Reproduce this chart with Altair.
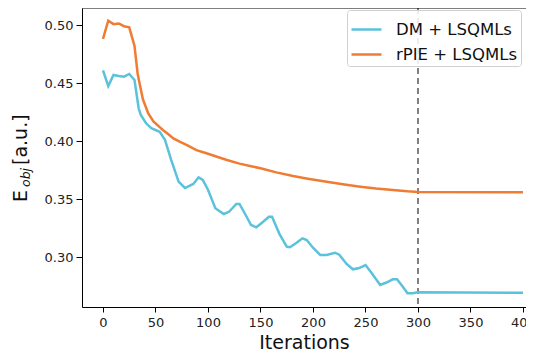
import altair as alt
import pandas as pd

series_names = ["DM + LSQMLs", "rPIE + LSQMLs"]
colors = ["#5BC2DC", "#F07B32"]

dm_iter = [0, 5, 10, 15, 20, 25, 30, 34, 36, 41, 46, 54, 59, 65, 72, 78, 86, 91, 95, 100,
           107, 115, 120, 127, 130, 136, 141, 146, 152, 158, 161, 168, 175, 178, 184, 190,
           194, 200, 207, 213, 221, 225, 232, 238, 244, 250, 256, 264, 270, 276, 280, 285,
           290, 295, 300, 400]
dm_val = [0.461, 0.4474, 0.457, 0.456, 0.4555, 0.4578, 0.4526, 0.428, 0.4225, 0.4153,
          0.411, 0.408, 0.401, 0.3836, 0.365, 0.3595, 0.363, 0.3687, 0.3664, 0.358,
          0.342, 0.3371, 0.339, 0.3457, 0.3457, 0.336, 0.3276, 0.3256, 0.330, 0.3347,
          0.3347, 0.320, 0.3089, 0.3084, 0.312, 0.3161, 0.3147, 0.308, 0.3017, 0.3017,
          0.3037, 0.302, 0.294, 0.2894, 0.2905, 0.2931, 0.286, 0.2759, 0.278, 0.2808,
          0.2808, 0.275, 0.2687, 0.2687, 0.2696, 0.2692]

rpie_iter = [0, 5, 10, 15, 20, 25, 30, 33, 35, 38, 43, 48, 54, 57, 62, 67, 73, 80, 89, 100,
             110, 118, 130, 140, 150, 165, 181, 195, 213, 230, 245, 260, 276, 290, 300, 400]
rpie_val = [0.488, 0.5037, 0.5008, 0.5014, 0.499, 0.498, 0.482, 0.458, 0.449, 0.436,
            0.424, 0.417, 0.412, 0.4095, 0.406, 0.4023, 0.3994, 0.3965, 0.3922, 0.389,
            0.386, 0.3836, 0.3805, 0.3785, 0.3765, 0.373, 0.3698, 0.3675, 0.3649, 0.3625,
            0.3606, 0.359, 0.3578, 0.3566, 0.356, 0.3558]

x_ticks = [0, 50, 100, 150, 200, 250, 300, 350, 400]
y_ticks = [0.30, 0.35, 0.40, 0.45, 0.50]
marker_iter = 300
x_domain = [-20, 402.86]
y_domain = [0.2569, 0.5147]

rows = []
for i, v in zip(dm_iter, dm_val):
    rows.append({"iter": i, "val": v, "method": series_names[0]})
for i, v in zip(rpie_iter, rpie_val):
    rows.append({"iter": i, "val": v, "method": series_names[1]})
df = pd.DataFrame(rows)

FONT = "DejaVu Sans"

xscale = alt.Scale(domain=x_domain, nice=False, zero=False)
yscale = alt.Scale(domain=y_domain, nice=False, zero=False)

lines = alt.Chart(df).mark_line(strokeWidth=2.5, clip=True).encode(
    x=alt.X("iter:Q", scale=xscale,
            axis=alt.Axis(values=x_ticks, title="Iterations", grid=False, titleFontSize=19,
                          titleFontWeight="normal", labelFontSize=13, tickSize=5,
                          labelPadding=4, titlePadding=4, domainColor="black",
                          tickColor="black", labelColor="#222", titleColor="#111",
                          labelFont=FONT, titleFont=FONT, labelFlush=False)),
    y=alt.Y("val:Q", scale=yscale,
            axis=alt.Axis(values=y_ticks, format=".2f", title=None, grid=False,
                          labelFontSize=13, tickSize=6, labelPadding=3, domainColor="black",
                          tickColor="black", labelColor="#222", labelFont=FONT,
                          labelFlush=False)),
    color=alt.Color("method:N", scale=alt.Scale(domain=series_names, range=colors),
                    legend=alt.Legend(title=None, orient="none", legendX=265, legendY=2,
                                      symbolType="stroke", symbolSize=900,
                                      symbolStrokeWidth=2.5, labelFontSize=16.5,
                                      labelFont=FONT, labelColor="#111", labelOffset=13,
                                      padding=3, fillColor="rgba(255,255,255,0.85)",
                                      strokeColor="#d0d0d0", cornerRadius=3,
                                      rowPadding=0)),
)

vline = alt.Chart(pd.DataFrame({"x": [marker_iter]})).mark_rule(
    color="#808080", strokeWidth=2, strokeDash=[6, 4]).encode(x=alt.X("x:Q", scale=xscale))

top = alt.Chart(pd.DataFrame({"y": [y_domain[1]]})).mark_rule(
    color="black", strokeWidth=1).encode(y=alt.Y("y:Q", scale=yscale))

tE = alt.Chart(pd.DataFrame({"t": ["E"]})).mark_text(
    angle=270, align="left", baseline="alphabetic", fontSize=19, font=FONT, color="#111"
).encode(text="t:N", x=alt.value(-55), y=alt.value(194))
tobj = alt.Chart(pd.DataFrame({"t": ["obj"]})).mark_text(
    angle=270, align="left", baseline="alphabetic", fontSize=12.5, font=FONT,
    fontStyle="italic", color="#111"
).encode(text="t:N", x=alt.value(-52), y=alt.value(179))
tau = alt.Chart(pd.DataFrame({"t": ["[a.u.]"]})).mark_text(
    angle=270, align="left", baseline="alphabetic", fontSize=19, font=FONT, color="#111"
).encode(text="t:N", x=alt.value(-55), y=alt.value(157))

chart = alt.layer(vline, lines, top, tE, tobj, tau).properties(
    width=444, height=299,
    autosize=alt.AutoSizeParams(type="none"),
    padding={"left": 74, "top": 0, "right": 0, "bottom": 48},
    background="white",
).configure_view(stroke=None)

chart.save("out.html", embed_options={"renderer": "svg", "actions": False})
